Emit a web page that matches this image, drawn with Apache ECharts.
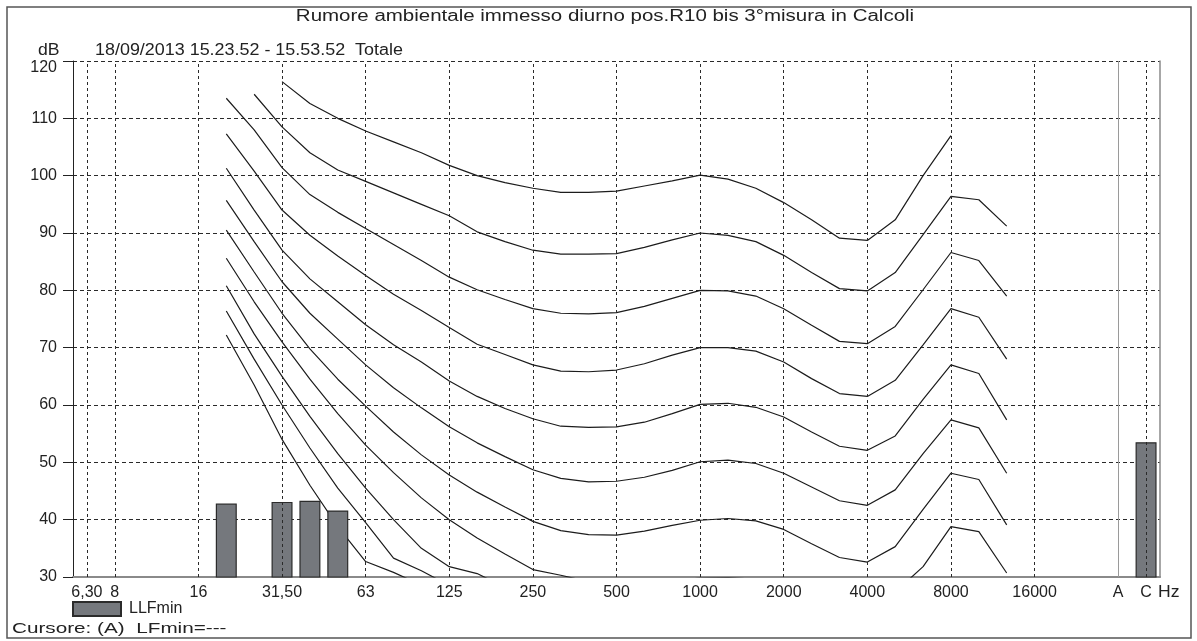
<!DOCTYPE html>
<html>
<head>
<meta charset="utf-8">
<script src="https://cdn.jsdelivr.net/npm/echarts@6/dist/echarts.min.js"></script>
<style>
  html, body { margin: 0; padding: 0; background: #fff; }
  #chart { width: 1197px; height: 641px; }
</style>
</head>
<body>
<div id="chart"></div>
<script>
// Third-octave bands on the x axis, followed by an empty slot and the A / C totals
const bands = ['6,3','8','10','12,5','16','20','25','31,5','40','50','63','80','100','125','160','200',
  '250','315','400','500','630','800','1000','1250','1600','2000','2500','3150','4000','5000','6300',
  '8000','10000','12500','16000','20000','-','A','C'];

// Bands that carry a label and a vertical grid line
const tickBands = ['6,3','8','16','31,5','63','125','250','500','1000','2000','4000','8000','16000','A','C'];
const tickTexts = ['6,30','8','16','31,50','63','125','250','500','1000','2000','4000','8000','16000','A','C'];

// Isophone curves, dB per band from 20 Hz to 12500 Hz
const contourBands = ['20','25','31,5','40','50','63','80','100','125','160','200','250','315','400','500',
  '630','800','1000','1250','1600','2000','2500','3150','4000','5000','6300','8000','10000','12500'];

const phon100 = [null, null, 116.4, 112.6, 110.0, 107.8, 105.9, 104.0, 101.8, 100.0, 98.8, 97.8, 97.1, 97.1, 97.3,
  98.2, 99.1, 100.1, 99.4, 97.8, 95.3, 92.3, 89.1, 88.7, 92.3, 100.0, 107.0, null, null];
const phon90 = [null, 114.2, 108.5, 104.0, 101.0, 99.0, 97.0, 95.0, 93.0, 90.2, 88.5, 87.0, 86.3, 86.3, 86.4,
  87.5, 88.8, 90.0, 89.6, 88.5, 86.1, 83.1, 80.3, 79.9, 83.1, 89.7, 96.4, 95.8, 91.2];
const phon80 = [113.5, 108.0, 101.4, 96.7, 93.6, 90.8, 88.0, 85.2, 82.3, 80.1, 78.4, 76.8, 76.0, 75.9, 76.1,
  77.2, 78.6, 80.0, 79.9, 79.0, 76.8, 73.9, 71.1, 70.7, 73.7, 80.1, 86.6, 85.2, 79.0];
const phon70 = [107.3, 100.8, 94.0, 89.6, 86.0, 82.6, 79.3, 76.5, 73.5, 70.6, 68.8, 67.0, 65.9, 65.8, 66.1,
  67.2, 68.7, 70.0, 70.0, 69.4, 67.5, 64.6, 62.0, 61.5, 64.3, 70.5, 76.8, 75.3, 68.0];
const phon60 = [101.3, 94.0, 87.0, 82.0, 78.0, 74.0, 70.5, 67.5, 64.2, 61.5, 59.4, 57.6, 56.3, 56.1, 56.2,
  57.0, 58.5, 60.1, 60.3, 59.6, 57.9, 55.3, 52.8, 52.1, 54.6, 61.0, 67.0, 65.5, 57.4];
const phon50 = [95.7, 88.5, 81.5, 76.0, 71.5, 67.0, 63.0, 59.5, 56.2, 53.4, 51.0, 48.7, 47.2, 46.6, 46.7,
  47.4, 48.6, 50.1, 50.4, 49.8, 48.1, 45.7, 43.3, 42.5, 45.2, 51.5, 57.4, 56.0, 48.1];
const phon40 = [90.5, 83.2, 76.0, 69.8, 64.5, 59.8, 55.3, 51.3, 47.8, 44.8, 42.2, 39.7, 38.1, 37.4, 37.3,
  38.0, 39.0, 39.9, 40.2, 39.8, 38.3, 35.8, 33.4, 32.6, 35.3, 41.8, 48.1, 47.0, 39.1];
const phon30 = [85.6, 78.0, 71.0, 64.5, 58.5, 53.0, 48.2, 43.8, 40.0, 36.8, 34.0, 31.3, 30.3, 29.2, 28.5,
  28.8, 29.4, 29.8, 29.9, 29.6, 28.3, 25.8, 23.5, 22.8, 27.4, 31.8, 38.8, 37.9, 30.7];
const phon20 = [80.8, 72.4, 65.0, 58.0, 51.5, 45.5, 40.0, 35.0, 31.8, 30.6, 28.2, null, null, null, null,
  null, null, null, null, null, null, null, null, null, null, null, null, null, null];
const phon10 = [76.4, 68.0, 60.0, 52.5, 45.5, 39.5, 33.3, 31.1, 28.5, null, null, null, null, null, null,
  null, null, null, null, null, null, null, null, null, null, null, null, null, null];
const phon0 = [72.2, 63.5, 54.0, 46.0, 38.8, 32.7, 30.8, 28.6, null, null, null, null, null, null, null,
  null, null, null, null, null, null, null, null, null, null, null, null, null, null];

const contours = [phon100, phon90, phon80, phon70, phon60, phon50, phon40, phon30, phon20, phon10, phon0];

// Measured minimum levels (LLFmin)
const barBands = ['20', '31,5', '40', '50', 'C'];
const barValues = [42.8, 43.1, 43.3, 41.6, 53.5];

const FONT = '"Liberation Sans", Arial, sans-serif';

function onBands(keys, values) {
  return bands.map(b => {
    const i = keys.indexOf(b);
    return i >= 0 ? values[i] : null;
  });
}

const contourSeries = contours.map(vals => ({
  type: 'line',
  data: onBands(contourBands, vals),
  symbol: 'none',
  silent: true,
  z: 2,
  lineStyle: { color: '#1c1c1c', width: 1.2 },
  connectNulls: false
}));

const gridSeries = {
  type: 'line',
  data: bands.map(() => null),
  silent: true,
  z: 1,
  markLine: {
    silent: true,
    symbol: 'none',
    label: { show: false },
    animation: false,
    data: tickBands.map(b => ({
      xAxis: b,
      lineStyle: b === 'A'
        ? { color: '#9a9a9a', width: 1, type: 'solid' }
        : { color: '#2a2a2a', width: 1, type: [3, 3] }
    }))
  }
};

const barSeries = {
  name: 'LLFmin',
  type: 'bar',
  data: onBands(barBands, barValues),
  barWidth: 21,
  z: 3,
  itemStyle: { color: '#75787d', borderColor: '#2b2b2b', borderWidth: 1.2 }
};

// Page texts, drawn a little wider than the font's natural width
function stretchedText(text, x, y, size, sx, align) {
  return {
    type: 'text', x: x, y: y, scaleX: sx, silent: true,
    style: { text: text, font: size + 'px ' + FONT, fill: '#222', align: align || 'left', verticalAlign: 'middle' }
  };
}

const chart = echarts.init(document.getElementById('chart'), null, { renderer: 'canvas' });
chart.setOption({
  animation: false,
  backgroundColor: '#fff',
  textStyle: { fontFamily: FONT },
  legend: {
    data: [{ name: 'LLFmin', icon: 'rect' }],
    left: 72, top: 601, padding: 0,
    itemWidth: 48, itemHeight: 14, itemGap: 8,
    textStyle: { fontFamily: FONT, fontSize: 16, color: '#222', padding: [0, 0, 0, 3] }
  },
  grid: { left: 73, right: 37, top: 61, bottom: 64 },
  xAxis: {
    type: 'category',
    data: bands,
    boundaryGap: true,
    axisLine: { lineStyle: { color: '#8a8a8a', width: 2 } },
    axisTick: { show: false },
    splitLine: { show: false },
    axisLabel: {
      interval: 0, margin: 8, color: '#222', fontSize: 16, fontFamily: FONT,
      formatter: v => { const i = tickBands.indexOf(v); return i >= 0 ? tickTexts[i] : ''; }
    }
  },
  yAxis: [{
    type: 'value', min: 30, max: 120, interval: 10,
    axisLine: { show: true, lineStyle: { color: '#222', width: 1 } },
    axisTick: { show: true, length: 10, lineStyle: { color: '#222' } },
    axisLabel: {
      color: '#222', fontSize: 16, fontFamily: FONT, margin: 16,
      formatter: v => v === 120 ? '{top|120}' : String(v),
      rich: { top: { fontSize: 16, fontFamily: FONT, color: '#222', padding: [13, 0, 0, 0] } }
    },
    splitLine: { show: true, lineStyle: { color: '#2a2a2a', width: 1, type: [4, 3] } }
  }, {
    type: 'value', min: 30, max: 120, interval: 10, position: 'right',
    axisLine: { show: true, lineStyle: { color: '#8a8a8a', width: 1.5 } },
    axisTick: { show: false }, axisLabel: { show: false }, splitLine: { show: false }
  }],
  graphic: [
    { type: 'rect', silent: true, z: -1,
      shape: { x: 7, y: 7, width: 1184, height: 631 },
      style: { fill: 'none', stroke: '#555', lineWidth: 1.5 } },
    stretchedText('Rumore ambientale immesso diurno pos.R10 bis 3°misura in Calcoli', 605, 17, 16, 1.28, 'center'),
    stretchedText('dB', 38, 51, 16, 1.1),
    stretchedText('18/09/2013 15.23.52 - 15.53.52  Totale', 95, 51, 16, 1.12),
    stretchedText('Hz', 1158, 593, 16, 1.1),
    stretchedText('Cursore: (A)  LFmin=---', 12, 629, 15, 1.38)
  ],
  series: [gridSeries, ...contourSeries, barSeries]
});
</script>
</body>
</html>
